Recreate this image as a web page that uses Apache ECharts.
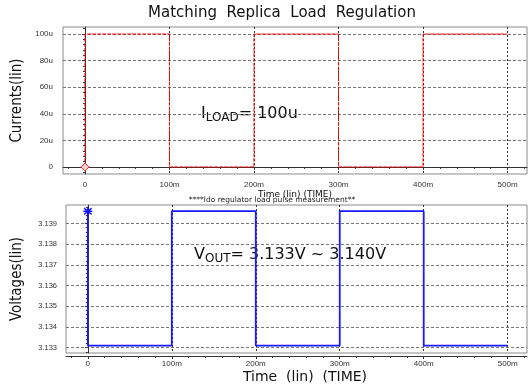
<!DOCTYPE html>
<html>
<head>
<meta charset="utf-8">
<script src="https://cdn.jsdelivr.net/npm/echarts@6/dist/echarts.min.js"></script>
<style>html,body{margin:0;padding:0;background:#fff}#c{width:532px;height:387px}</style>
</head>
<body>
<div id="c"></div>
<script>
// ---- data ----
const chartTitle = 'Matching  Replica  Load  Regulation';
const currentTime = [0, 0, 100, 100, 200, 200, 300, 300, 400, 400, 500];       // ms
const currentUA   = [0, 100, 100, 0, 0, 100, 100, 0, 0, 100, 100];             // uA
const voltTime    = [0, 0, 100, 100, 200, 200, 300, 300, 400, 400, 500];       // ms
const voltageV    = [3.1396, 3.1331, 3.1331, 3.1396, 3.1396, 3.1331, 3.1331, 3.1396, 3.1396, 3.1331, 3.1331];
const timeTicks   = [0, 100, 200, 300, 400, 500];
const currentTicks = [0, 20, 40, 60, 80, 100];
const voltTicks   = [3.133, 3.134, 3.135, 3.136, 3.137, 3.138, 3.139];

const chart = echarts.init(document.getElementById('c'), null, {renderer: 'canvas'});
const lblFont = 'Liberation Sans';
const narrow = '"Liberation Sans Narrow", "DejaVu Sans Condensed", "Liberation Sans", sans-serif';
const asterisk = 'path://M4.2,0 L5.8,0 L5.8,10 L4.2,10 Z M0.4,2.2 L1.2,0.8 L9.6,7.8 L8.8,9.2 Z M8.8,0.8 L9.6,2.2 L1.2,9.2 L0.4,7.8 Z M0,4.2 L10,4.2 L10,5.8 L0,5.8 Z';

function xAxisCfg(grid, nameText, nameGap, nameSize, pad) {
  return {
    type: 'value', gridIndex: grid, min: -26, max: 523, minInterval: 100, maxInterval: 100,
    offset: 3,
    axisLine: {show: true, lineStyle: {color: '#333', width: 1}},
    axisTick: {show: true, inside: false, length: 3, customValues: timeTicks, lineStyle: {color: '#333'}},
    minorTick: {show: true, splitNumber: 5, length: 2, lineStyle: {color: '#333'}},
    axisLabel: {customValues: timeTicks, fontSize: 8, fontFamily: lblFont, color: '#333', margin: 4,
      formatter: v => v === 0 ? '0' : v + 'm'},
    splitLine: {show: true, lineStyle: {color: '#333', type: [2, 2], width: 1}},
    name: nameText, nameLocation: 'middle', nameGap: nameGap,
    nameTextStyle: {fontSize: nameSize, fontFamily: 'DejaVu Sans', color: '#111', padding: pad}
  };
}

const option = {
  animation: false,
  backgroundColor: '#fff',
  grid: [
    {left: 63, top: 27, width: 464, height: 147, show: true, borderColor: '#8a8a8a', borderWidth: 1},
    {left: 66, top: 205, width: 461, height: 148, show: true, borderColor: '#8a8a8a', borderWidth: 1}
  ],
  xAxis: [
    xAxisCfg(0, 'Time (lin) (TIME)', 7, 9, [0, 0, 0, 0]),
    xAxisCfg(1, 'Time  (lin)  (TIME)', 14, 14, [0, 0, 0, 17])
  ],
  yAxis: [
    {
      type: 'value', gridIndex: 0, min: -5.3, max: 105.3, minInterval: 20, maxInterval: 20, offset: 3,
      axisLine: {show: true, lineStyle: {color: '#333'}},
      axisTick: {show: true, length: 3, customValues: currentTicks, lineStyle: {color: '#333'}},
      minorTick: {show: true, splitNumber: 5, length: 2, lineStyle: {color: '#333'}},
      axisLabel: {customValues: currentTicks, fontSize: 8, fontFamily: lblFont, color: '#333', margin: 7,
        formatter: v => v === 0 ? '0' : v + 'u'},
      splitLine: {show: true, lineStyle: {color: '#777', type: [3, 2]}},
      name: 'Currents(lin)', nameLocation: 'middle', nameGap: 33, nameRotate: 90,
      nameTextStyle: {fontSize: 15, fontFamily: narrow, color: '#111'}
    },
    {
      type: 'value', gridIndex: 1, min: 3.13274, max: 3.1399, minInterval: 0.001, maxInterval: 0.001, offset: 3,
      axisLine: {show: true, lineStyle: {color: '#333'}},
      axisTick: {show: true, length: 3, customValues: voltTicks, lineStyle: {color: '#333'}},
      minorTick: {show: true, splitNumber: 5, length: 2, lineStyle: {color: '#333'}},
      axisLabel: {customValues: voltTicks, fontSize: 7.5, fontFamily: lblFont, color: '#333', margin: 6,
        formatter: v => v.toFixed(3)},
      splitLine: {show: true, lineStyle: {color: '#777', type: [3, 2]}},
      name: 'Voltages(lin)', nameLocation: 'middle', nameGap: 38, nameRotate: 90,
      nameTextStyle: {fontSize: 15, fontFamily: narrow, color: '#111'}
    }
  ],
  series: [
    {
      type: 'line', xAxisIndex: 0, yAxisIndex: 0,
      data: currentTime.map((t, i) => [t, currentUA[i]]),
      symbol: (v, p) => p.dataIndex === 0 ? 'diamond' : 'none', symbolSize: 8, showSymbol: true,
      itemStyle: {color: '#ffd0d0', borderColor: '#ff3030', borderWidth: 1},
      lineStyle: {color: '#ff0000', width: 1, type: [4, 1]}
    },
    {
      type: 'line', xAxisIndex: 1, yAxisIndex: 1,
      data: voltTime.map((t, i) => [t, voltageV[i]]),
      symbol: (v, p) => p.dataIndex === 0 ? asterisk : 'none',
      symbolSize: 9, showSymbol: true,
      itemStyle: {color: '#1010ff'},
      lineStyle: {color: '#1a1aff', width: 1.8}
    }
  ],
  graphic: [
    {type: 'text', x: 282, y: 13, style: {text: chartTitle, font: '15px "DejaVu Sans"', fill: '#111', align: 'center', verticalAlign: 'middle'}},
    {type: 'text', x: 272, y: 200, style: {text: '****ldo regulator load pulse measurement**', font: '7.5px "DejaVu Sans"', fill: '#222', align: 'center', verticalAlign: 'middle'}},
    {type: 'text', x: 201, y: 114, style: {
      text: '{a|I}{b|LOAD}{a|= 100u}', align: 'left', verticalAlign: 'middle',
      rich: {
        a: {fontSize: 16, fontFamily: 'DejaVu Sans', fill: '#111', lineHeight: 20, verticalAlign: 'middle'},
        b: {fontSize: 12, fontFamily: 'DejaVu Sans', fill: '#111', lineHeight: 12, verticalAlign: 'bottom'}
      }}},
    {type: 'text', x: 194, y: 255, style: {
      text: '{a|V}{b|OUT}{a|= 3.133V ~ 3.140V}', align: 'left', verticalAlign: 'middle',
      rich: {
        a: {fontSize: 16, fontFamily: 'DejaVu Sans', fill: '#111', lineHeight: 20, verticalAlign: 'middle'},
        b: {fontSize: 12, fontFamily: 'DejaVu Sans', fill: '#111', lineHeight: 12, verticalAlign: 'bottom'}
      }}}
  ]
};
chart.setOption(option);
</script>
</body>
</html>
